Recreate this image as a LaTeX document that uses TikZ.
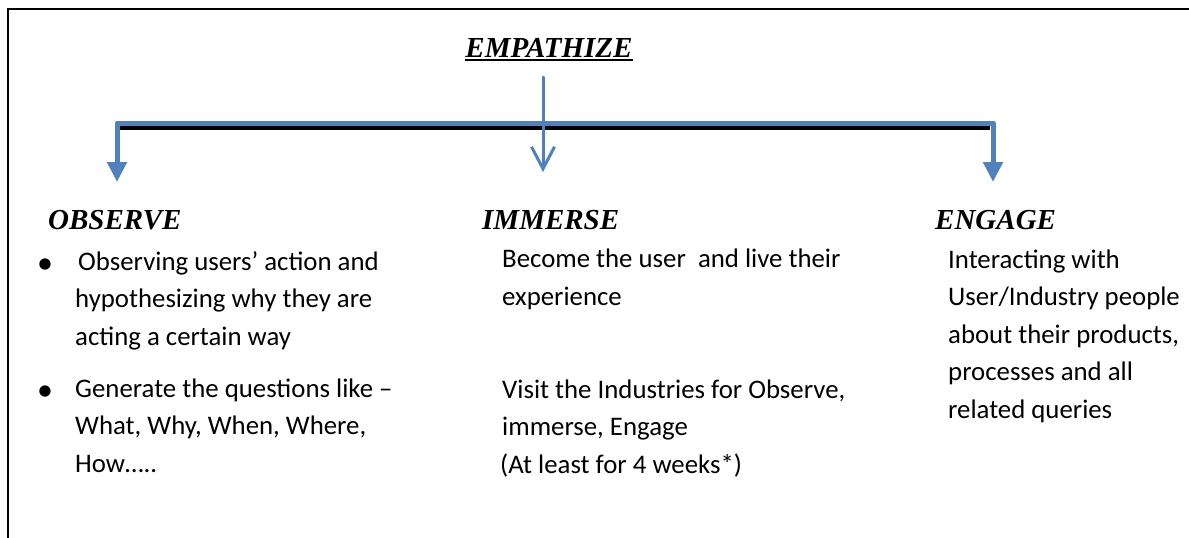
\documentclass[tikz,border=0pt]{standalone}
\usepackage{fontspec}
\setmainfont{Carlito}
\newfontfamily\headfont{Liberation Serif}
\usetikzlibrary{positioning, arrows.meta}
\definecolor{flowblue}{RGB}{79,129,189}

\begin{document}
\begin{tikzpicture}[x=1pt, y=-1pt,
    head/.style={font=\headfont\bfseries\itshape\fontsize{29}{34}\selectfont,
      inner sep=0pt, anchor=base west},
    body/.style={font=\fontsize{26.8}{37.5}\selectfont,
      inner sep=0pt, anchor=base west, align=left},
    bullet/.style={font=\fontsize{32}{37.5}\selectfont, inner sep=0pt, anchor=base},
    bar/.style={draw=flowblue, line width=5pt, line join=round},
  ]
  \useasboundingbox (0,0) rectangle (1189,538);
  \clip (0,0) rectangle (1189,538);
  \draw[line width=2pt] (8,9) rectangle (1200,550);

  % title
  \node[head, anchor=base] (empathize) at (549,57) {EMPATHIZE};
  \draw[line width=2pt] ([yshift=-3pt]empathize.base west) -- ([yshift=-3pt]empathize.base east);

  % branches
  \node[head] (observe) at (48,229) {OBSERVE};
  \node[head] (immerse) at (482,229) {IMMERSE};
  \node[head] (engage) at (935,229) {ENGAGE};

  \coordinate (hub) at (543,77);
  \coordinate (midtip) at (543,172);
  \coordinate (lcorner) at (117,123);
  \coordinate (ltip) at (117,182);
  \coordinate (rcorner) at (993,123);
  \coordinate (rtip) at (993,182);
  \coordinate (lbar) at (120,128);
  \coordinate (rbar) at (990,128);

  \draw[line width=4pt] (lbar) -- (rbar);
  \draw[bar, {Triangle[width=19pt,length=20pt]}-{Triangle[width=19pt,length=20pt]}]
    (ltip) -- (lcorner) -- (rcorner) -- (rtip);
  \draw[flowblue, line width=3pt, line cap=round,
    -{Straight Barb[width=23pt,length=22pt]}] (hub) -- (midtip);

  % texts (base = last line)
  \node[bullet] (dot1) at (45,273) {•};
  \node[body] (obs1) at (75,345) {\hspace*{3pt}Observing users’ action and\\hypothesizing why they are\\acting a certain way};
  \node[bullet] (dot2) at (45,400) {•};
  \node[body] (obs2) at (75,472) {Generate the questions like –\\What, Why, When, Where,\\How…..};

  \node[body] (imm1) at (502,305) {Become the user\ \ and live their\\experience};
  \node[body] (imm2) at (502,473) {Visit the Industries for Observe,\\immerse, Engage\\\hspace*{-2pt}(At least for 4 weeks*)};

  \node[body] (eng) at (948,418) {Interacting with\\User/Industry people\\about their products,\\processes and all\\related queries};

\end{tikzpicture}
\end{document}
